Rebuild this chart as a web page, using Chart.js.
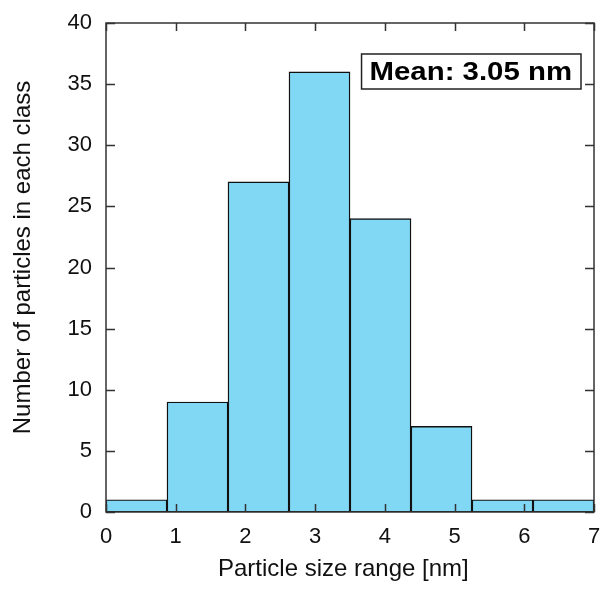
<!DOCTYPE html>
<html lang="en">

<head>
    <meta charset="UTF-8">
    <title>Particle size histogram</title>
    <script src="https://cdn.jsdelivr.net/npm/chart.js@4.4.0/dist/chart.umd.min.js"></script>
    <style>
        html, body { margin: 0; padding: 0; background: #fff; }
        #wrap { width: 605px; height: 590px; }
    </style>
</head>

<body>
    <div id="wrap"><canvas id="histChart" width="605" height="590"></canvas></div>
    <script>
        // histogram bins (nm) and counts
        const binEdges = [0, 0.875, 1.75, 2.625, 3.5, 4.375, 5.25, 6.125, 7];
        const counts = [1, 9, 27, 36, 24, 7, 1, 1];
        const xTicks = [0, 1, 2, 3, 4, 5, 6, 7];
        const yTicks = [0, 5, 10, 15, 20, 25, 30, 35, 40];
        const meanLabel = 'Mean: 3.05 nm';

        const font = "'Liberation Sans', Arial, sans-serif";

        // frame + inward ticks on all four sides, plus the mean box
        const framePlugin = {
            id: 'frame',
            afterDraw(chart) {
                const { ctx, chartArea: a, scales: { x, y } } = chart;
                ctx.save();
                ctx.strokeStyle = '#333';
                ctx.lineWidth = 1.5;
                ctx.strokeRect(a.left, a.top, a.right - a.left, a.bottom - a.top);
                ctx.beginPath();
                xTicks.forEach(v => {
                    const px = Math.round(x.getPixelForValue(v)) + 0.5;
                    ctx.moveTo(px, a.bottom); ctx.lineTo(px, a.bottom - 8);
                    ctx.moveTo(px, a.top); ctx.lineTo(px, a.top + 8);
                });
                yTicks.forEach(v => {
                    const py = Math.round(y.getPixelForValue(v)) + 0.5;
                    ctx.moveTo(a.left, py); ctx.lineTo(a.left + 9, py);
                    ctx.moveTo(a.right, py); ctx.lineTo(a.right - 9, py);
                });
                ctx.stroke();

                // mean annotation (text slightly stretched like the original)
                const sx = 1.13;
                ctx.font = 'bold 26px ' + font;
                const w = ctx.measureText(meanLabel).width * sx;
                const bw = w + 17, bh = 35;
                const bx = a.right - 13 - bw, by = a.top + 31;
                ctx.fillStyle = '#fff';
                ctx.fillRect(bx, by, bw, bh);
                ctx.lineWidth = 1.5;
                ctx.strokeStyle = '#222';
                ctx.strokeRect(bx, by, bw, bh);
                ctx.fillStyle = '#000';
                ctx.textBaseline = 'middle';
                ctx.translate(bx + 8, by + bh / 2 + 1);
                ctx.scale(sx, 1);
                ctx.fillText(meanLabel, 0, 0);
                ctx.restore();
            }
        };

        const centers = counts.map((c, i) => ({ x: (binEdges[i] + binEdges[i + 1]) / 2, y: c }));

        new Chart(document.getElementById('histChart'), {
            type: 'bar',
            data: {
                datasets: [{
                    data: centers,
                    backgroundColor: '#80D8F4',
                    borderColor: '#111',
                    borderWidth: 1.4,
                    borderSkipped: false,
                    barPercentage: 1,
                    categoryPercentage: 1
                }]
            },
            options: {
                responsive: false,
                animation: false,
                layout: { padding: { top: 23, right: 11, left: 0, bottom: 0 } },
                plugins: { legend: { display: false }, tooltip: { enabled: false } },
                scales: {
                    x: {
                        type: 'linear',
                        min: 0,
                        max: 7,
                        offset: false,
                        afterBuildTicks: s => { s.ticks = xTicks.map(v => ({ value: v })); },
                        afterFit: s => { s.height = 78; s.paddingLeft = 0; s.paddingRight = 0; },
                        grid: { display: false, drawTicks: false },
                        border: { display: false },
                        ticks: { color: '#111', padding: 12, font: { family: font, size: 22 } },
                        title: {
                            display: true,
                            text: 'Particle size range [nm]  ',
                            color: '#111',
                            padding: { top: 0, bottom: 6 },
                            font: { family: font, size: 24 }
                        }
                    },
                    y: {
                        min: 0,
                        max: 40,
                        afterBuildTicks: s => { s.ticks = yTicks.map(v => ({ value: v })); },
                        afterFit: s => { s.width = 106; s.paddingTop = 0; s.paddingBottom = 0; },
                        grid: { display: false, drawTicks: false },
                        border: { display: false },
                        ticks: { color: '#111', padding: 14, font: { family: font, size: 22 } },
                        title: {
                            display: true,
                            text: '   Number of particles in each class',
                            color: '#111',
                            padding: { top: 9, bottom: 0 },
                            font: { family: font, size: 24 }
                        }
                    }
                }
            },
            plugins: [framePlugin]
        });
    </script>
</body>

</html>
